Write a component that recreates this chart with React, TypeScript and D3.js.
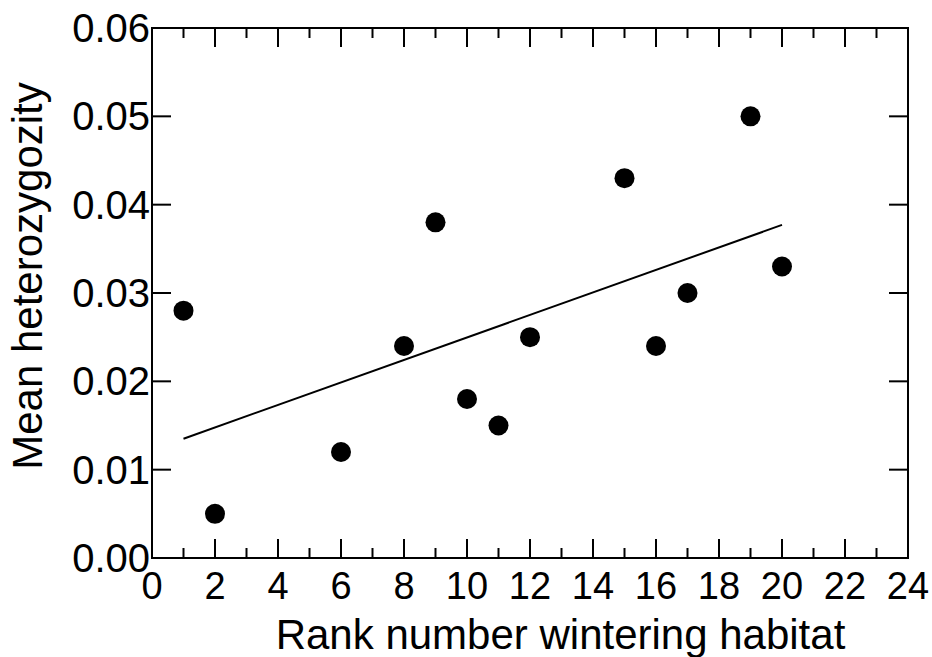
import React from "react";
import * as d3 from "d3";

const rank = [1, 2, 6, 8, 9, 10, 11, 12, 15, 16, 17, 19, 20];
const heterozygosity = [0.028, 0.005, 0.012, 0.024, 0.038, 0.018, 0.015, 0.025, 0.043, 0.024, 0.03, 0.05, 0.033];
const xTicks = [0, 2, 4, 6, 8, 10, 12, 14, 16, 18, 20, 22, 24];
const xMinorTicks = [1, 3, 5, 7, 9, 11, 13, 15, 17, 19, 21, 23];
const yTicks = [0, 0.01, 0.02, 0.03, 0.04, 0.05, 0.06];
const yTickLabels = ["0.00", "0.01", "0.02", "0.03", "0.04", "0.05", "0.06"];

const W = 932;
const H = 657;
const left = 152;
const right = 908;
const top = 28;
const bottom = 558;
const FONT = "'Liberation Sans', Arial, sans-serif";

export default function App() {
  const x = d3.scaleLinear().domain([0, 24]).range([left, right]);
  const y = d3.scaleLinear().domain([0, 0.06]).range([bottom, top]);

  // least-squares regression line
  const mx = d3.mean(rank)!;
  const my = d3.mean(heterozygosity)!;
  let sxy = 0;
  let sxx = 0;
  rank.forEach((xi, i) => {
    sxy += (xi - mx) * (heterozygosity[i] - my);
    sxx += (xi - mx) * (xi - mx);
  });
  const slope = sxy / sxx;
  const intercept = my - slope * mx;
  const x0 = d3.min(rank)!;
  const x1 = d3.max(rank)!;
  const line = d3
    .line<number>()
    .x((d) => x(d))
    .y((d) => y(intercept + slope * d));

  const major = 19;
  const minor = 10;

  return (
    <svg
      width={W}
      height={H}
      style={{ position: "absolute", left: 0, top: 0, background: "#fff" }}
      fontFamily={FONT}
    >
      <rect x={0} y={0} width={W} height={H} fill="#fff" />
      {/* frame */}
      <rect
        x={left}
        y={top}
        width={right - left}
        height={bottom - top}
        fill="none"
        stroke="#000"
        strokeWidth={2}
      />
      {/* x ticks bottom & top */}
      {xTicks.map((t) => (
        <g key={"xt" + t}>
          <line x1={x(t)} x2={x(t)} y1={bottom} y2={bottom - major} stroke="#000" strokeWidth={2} />
          <line x1={x(t)} x2={x(t)} y1={top} y2={top + major} stroke="#000" strokeWidth={2} />
          <text x={x(t)} y={599} textAnchor="middle" fontSize={38} fill="#000">
            {t}
          </text>
        </g>
      ))}
      {xMinorTicks.map((t) => (
        <g key={"xm" + t}>
          <line x1={x(t)} x2={x(t)} y1={bottom} y2={bottom - minor} stroke="#000" strokeWidth={2} />
          <line x1={x(t)} x2={x(t)} y1={top} y2={top + minor} stroke="#000" strokeWidth={2} />
        </g>
      ))}
      {/* y ticks left & right */}
      {yTicks.map((t, i) => (
        <g key={"yt" + t}>
          <line x1={left} x2={left + major} y1={y(t)} y2={y(t)} stroke="#000" strokeWidth={2} />
          <line x1={right} x2={right - major} y1={y(t)} y2={y(t)} stroke="#000" strokeWidth={2} />
          <text x={150} y={y(t) + 14} textAnchor="end" fontSize={40} fill="#000">
            {yTickLabels[i]}
          </text>
        </g>
      ))}
      {/* regression line */}
      <path d={line([x0, x1]) || ""} fill="none" stroke="#000" strokeWidth={2} />
      {/* points */}
      {rank.map((r, i) => (
        <circle key={"p" + i} cx={x(r)} cy={y(heterozygosity[i])} r={10} fill="#000" />
      ))}
      {/* axis titles */}
      <text x={560.5} y={649} textAnchor="middle" fontSize={42} fill="#000">
        Rank number wintering habitat
      </text>
      <text
        transform={`translate(42, 276) rotate(-90)`}
        textAnchor="middle"
        fontSize={42}
        fill="#000"
      >
        Mean heterozygozity
      </text>
    </svg>
  );
}
